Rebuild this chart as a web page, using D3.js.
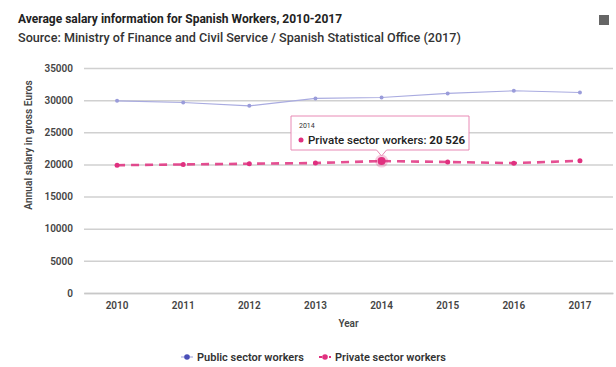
<!DOCTYPE html>
<html><head><meta charset="utf-8">
<script src="https://cdn.jsdelivr.net/npm/d3@7/dist/d3.min.js"></script>
<style>
html,body{margin:0;padding:0;background:#fff;}
svg{display:block;font-family:Roboto,"Open Sans",sans-serif;}
</style></head>
<body>
<svg id="chart" width="616" height="367"></svg>
<script>
const years = ["2010","2011","2012","2013","2014","2015","2016","2017"];
const publicValues = [29890, 29640, 29110, 30270, 30420, 31050, 31450, 31200];
const privateValues = [19880, 20000, 20110, 20220, 20526, 20380, 20200, 20560];
const yTicks = [0, 5000, 10000, 15000, 20000, 25000, 30000, 35000];
const seriesNames = ["Public sector workers", "Private sector workers"];
const colors = ["#4a4fb8", "#e0307f"];
const lineColors = ["#a9abe0", "#e0307f"];
const hoverIndex = 4;

const svg = d3.select("#chart");
const m = {left: 84, right: 3, top: 68, bottom: 74};
const W = 616, H = 367;
const x = d3.scaleBand().domain(years).range([m.left, W - m.right]);
const y = d3.scaleLinear().domain([0, 35000]).range([H - m.bottom, m.top]);

// title
svg.append("text").attr("x", 18).attr("y", 23).attr("font-size", 12).attr("font-weight", 700)
  .attr("fill", "#222").text("Average salary information for Spanish Workers, 2010-2017");
svg.append("text").attr("x", 18).attr("y", 42).attr("font-size", 12.6).attr("font-weight", 500).attr("fill", "#333")
  .text("Source: Ministry of Finance and Civil Service / Spanish Statistical Office (2017)");

// menu icon
svg.append("rect").attr("x", 599).attr("y", 15).attr("width", 10).attr("height", 10).attr("fill", "#666");

// gridlines
const gy = svg.append("g").attr("transform", `translate(${m.left},0)`)
  .call(d3.axisLeft(y).tickValues(yTicks).tickSize(-(W - m.left - m.right)).tickPadding(11).tickFormat(d3.format("d")));
gy.select(".domain").remove();
gy.selectAll(".tick line").attr("stroke", "#d0d0d0").attr("stroke-width", 1.5);
gy.selectAll(".tick text").attr("font-size", 10).attr("font-weight", 600).attr("fill", "#444")
  .attr("font-family", "Roboto,sans-serif");

// x axis
const gx = svg.append("g").attr("transform", `translate(0,${H - m.bottom})`)
  .call(d3.axisBottom(x).tickSize(0).tickPadding(9));
gx.select(".domain").attr("stroke", "#c8c8c8").attr("stroke-width", 1.5);
gx.selectAll(".tick text").attr("font-size", 10).attr("font-weight", 600).attr("fill", "#444")
  .attr("font-family", "Roboto,sans-serif");

svg.append("text").attr("x", (m.left + W - m.right) / 2).attr("y", 327).attr("text-anchor", "middle")
  .attr("font-size", 10).attr("font-weight", 600).attr("fill", "#444").text("Year");
svg.append("text").attr("transform", `translate(32,145) rotate(-90)`)
  .attr("text-anchor", "middle").attr("font-size", 10.2).attr("font-weight", 600).attr("fill", "#444")
  .text("Annual salary in gross Euros");

const cx = d => x(d) + x.bandwidth() / 2;
const line = d3.line().x(d => cx(d.year)).y(d => y(d.v));

// public series
const pubData = years.map((yr, i) => ({year: yr, v: publicValues[i]}));
svg.append("path").datum(pubData).attr("d", line).attr("fill", "none")
  .attr("stroke", lineColors[0]).attr("stroke-width", 1.1);
svg.selectAll(".pubm").data(pubData).enter().append("circle")
  .attr("cx", d => cx(d.year)).attr("cy", d => y(d.v)).attr("r", 2).attr("fill", "#9a9cda");

// private series
const privData = years.map((yr, i) => ({year: yr, v: privateValues[i]}));
svg.append("path").datum(privData).attr("d", line).attr("fill", "none")
  .attr("stroke", lineColors[1]).attr("stroke-width", 2.6).attr("stroke-dasharray", "8,6").attr("opacity", 0.85);
svg.selectAll(".privm").data(privData).enter().append("circle")
  .attr("cx", d => cx(d.year)).attr("cy", d => y(d.v)).attr("r", 2.5).attr("fill", colors[1]);

// hover marker
const hx = cx(years[hoverIndex]), hy = y(privateValues[hoverIndex]);
svg.append("circle").attr("cx", hx).attr("cy", hy).attr("r", 6.5).attr("fill", colors[1]).attr("opacity", 0.25);
svg.append("circle").attr("cx", hx).attr("cy", hy).attr("r", 4).attr("fill", colors[1]);

// tooltip
const tw = 178, th = 34;
const tx = 291, ty = 116;
const tt = svg.append("g");
tt.append("path")
  .attr("d", `M${tx},${ty} h${tw} v${th} H${hx + 5} l-5,6 l-5,-6 H${tx} Z`)
  .attr("fill", "rgba(255,255,255,0.92)").attr("stroke", "#e88ab5").attr("stroke-width", 1);
tt.append("text").attr("x", tx + 8).attr("y", ty + 12).attr("font-size", 7).attr("fill", "#333").text(years[hoverIndex]);
tt.append("circle").attr("cx", tx + 10).attr("cy", ty + 24).attr("r", 2.5).attr("fill", colors[1]);
const t2 = tt.append("text").attr("x", tx + 17).attr("y", ty + 28).attr("font-size", 11.5).attr("font-weight", 500).attr("fill", "#222");
t2.append("tspan").text(seriesNames[1] + ": ");
t2.append("tspan").attr("font-weight", 700).text(d3.format(",")(privateValues[hoverIndex]).replace(",", " "));

// legend
const lg = svg.append("g").attr("transform", "translate(0,357)");
const lx = [181, 319];
seriesNames.forEach((n, i) => {
  const g = lg.append("g").attr("transform", `translate(${lx[i]},0)`);
  g.append("line").attr("x1", 0).attr("x2", 12).attr("stroke", i === 0 ? lineColors[0] : colors[1])
    .attr("stroke-width", i === 0 ? 1.2 : 2).attr("stroke-dasharray", i === 0 ? null : "3,2");
  g.append("circle").attr("cx", 6).attr("r", 2.8).attr("fill", colors[i]);
  g.append("text").attr("x", 16).attr("y", 4).attr("font-size", 11).attr("font-weight", 600)
    .attr("fill", "#333").text(n);
});
</script>
</body></html>
